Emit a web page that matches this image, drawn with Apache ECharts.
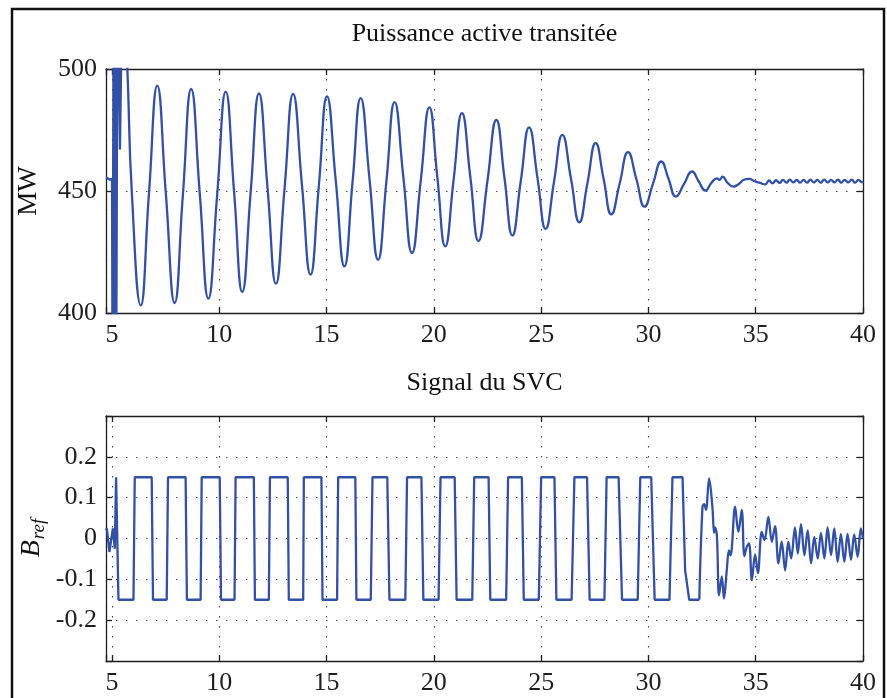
<!DOCTYPE html>
<html><head><meta charset="utf-8">
<script src="https://cdn.jsdelivr.net/npm/echarts@6/dist/echarts.min.js"></script>
<style>html,body{margin:0;padding:0;background:#fff}#c{width:887px;height:698px}</style>
</head><body><div id="c"></div><script>
// ---- Data (time in s) ----
const xTickLabels = [5, 10, 15, 20, 25, 30, 35, 40];
const topYTicks = [400, 450, 500];
const bottomYTicks = [-0.2, -0.1, 0, 0.1, 0.2];

// Puissance active transitée (MW): initial disturbance (straight segments)
const powerStart = [[4.72,455.6],[4.80,455.2],[4.90,454.6],[4.97,455.4],[5.00,455.0],[5.03,360],[5.07,520],[5.11,370],[5.15,525],[5.20,380],[5.25,530],[5.31,505],[5.37,467],[5.43,505],[5.55,515],[5.65,508]];
// Puissance active transitée (MW): damped oscillation
const powerMain = [[5.65,508],[5.72,499],[5.92,450],[6.34,403.1],[6.72,448.6],[7.11,493.2],[7.51,448.8],[7.92,404.1],[8.30,448.0],[8.69,491.8],[9.09,448.9],[9.49,405.9],[9.90,448.3],[10.30,490.7],[10.69,449.6],[11.07,408.6],[11.46,449.3],[11.85,490.0],[12.25,451.0],[12.64,412.0],[13.04,450.9],[13.44,489.8],[13.85,452.7],[14.25,415.7],[14.64,452.2],[15.02,488.8],[15.43,454.0],[15.83,419.1],[16.21,453.6],[16.59,488.1],[17.00,455.0],[17.40,421.8],[17.79,454.1],[18.17,486.4],[18.58,455.5],[18.98,424.6],[19.39,454.4],[19.79,484.3],[20.16,455.8],[20.53,427.3],[20.92,454.6],[21.31,481.9],[21.70,455.7],[22.08,429.5],[22.50,454.3],[22.91,479.1],[23.29,455.4],[23.66,431.8],[24.05,454.0],[24.44,476.1],[24.83,455.3],[25.21,434.5],[25.60,453.8],[25.99,473.0],[26.39,455.1],[26.78,437.2],[27.16,453.4],[27.54,469.6],[27.91,455.0],[28.27,440.4],[28.66,453.1],[29.05,465.9],[29.44,454.8],[29.82,443.6],[30.21,452.9],[30.60,462.1],[30.94,454.9],[31.28,447.7],[31.66,452.9],[32.03,458.0],[32.34,454.0],[32.65,450.2],[32.95,453.5],[33.19,455.2],[33.32,454.6],[33.45,455.9],[33.70,453.2],[33.96,451.8],[34.20,452.8],[34.45,454.6],[34.69,455.0],[34.95,454.0],[35.20,453.3],[35.44,452.7],[35.62,454.3],[35.78,453.1],[35.95,454.4],[36.11,453.3],[36.27,454.6],[36.43,453.4],[36.59,454.7],[36.75,453.5],[36.91,454.5],[37.07,453.4],[37.23,454.6],[37.39,453.4],[37.55,454.7],[37.71,453.5],[37.87,454.6],[38.03,453.4],[38.19,454.7],[38.35,453.5],[38.51,454.6],[38.67,453.5],[38.83,454.7],[38.99,453.4],[39.15,454.6],[39.31,453.5],[39.47,454.7],[39.63,453.4],[39.79,454.6],[39.95,453.6],[40.0,453.9]];

// Signal du SVC (B_ref): bang-bang part
const brefSquare = [[4.72,0.02],[4.76,0.025],[4.88,-0.033],[5.04,0.025],[5.13,-0.025],[5.19,0.15],[5.25,0.15],[5.30,-0.15],[6.00,-0.15],[6.06,0.15],[6.85,0.15],[6.91,-0.15],[7.55,-0.15],[7.61,0.15],[8.43,0.15],[8.49,-0.15],[9.13,-0.15],[9.18,0.15],[10.02,0.15],[10.08,-0.15],[10.71,-0.15],[10.76,0.15],[11.61,0.15],[11.66,-0.15],[12.31,-0.15],[12.36,0.15],[13.19,0.15],[13.24,-0.15],[13.91,-0.15],[13.94,0.15],[14.76,0.15],[14.81,-0.15],[15.49,-0.15],[15.54,0.15],[16.34,0.15],[16.39,-0.15],[17.06,-0.15],[17.14,0.15],[17.83,0.15],[17.93,-0.15],[18.67,-0.15],[18.75,0.15],[19.42,0.15],[19.51,-0.15],[20.22,-0.15],[20.31,0.15],[20.97,0.15],[21.06,-0.15],[21.79,-0.15],[21.88,0.15],[22.55,0.15],[22.63,-0.15],[23.37,-0.15],[23.46,0.15],[24.10,0.15],[24.19,-0.15],[24.89,-0.15],[25.00,0.15],[25.62,0.15],[25.71,-0.15],[26.42,-0.15],[26.55,0.15],[27.14,0.15],[27.26,-0.15],[27.95,-0.15],[28.05,0.15],[28.61,0.15],[28.77,-0.15],[29.50,-0.15],[29.62,0.15],[30.13,0.15],[30.29,-0.15],[30.98,-0.15],[31.12,0.15],[31.59,0.15],[31.71,-0.078],[31.82,-0.119],[31.90,-0.15],[32.37,-0.15]];
// Signal du SVC (B_ref): continuous part
const brefTail = [[32.37,-0.15],[32.52,0.078],[32.60,0.084],[32.68,0.07],[32.83,0.147],[32.98,0.078],[33.06,0.014],[33.10,0.027],[33.19,0.008],[33.29,-0.139],[33.42,-0.093],[33.52,-0.147],[33.65,-0.078],[33.75,-0.029],[33.82,-0.041],[33.88,-0.027],[34.04,0.078],[34.19,0.016],[34.35,0.07],[34.47,-0.043],[34.58,-0.021],[34.69,-0.012],[34.82,-0.102],[34.97,-0.039],[35.10,-0.085],[35.28,0.016],[35.41,-0.004],[35.59,0.053],[35.75,-0.008],[35.90,0.030],[36.06,-0.061],[36.21,-0.008],[36.37,-0.078],[36.52,-0.008],[36.65,-0.049],[36.83,0.027],[36.96,-0.037],[37.11,0.035],[37.27,-0.041],[37.42,0.020],[37.58,-0.061],[37.73,0.004],[37.89,-0.049],[38.04,0.014],[38.20,-0.049],[38.35,0.027],[38.51,-0.041],[38.66,0.025],[38.82,-0.057],[38.97,0.011],[39.13,-0.057],[39.28,0.011],[39.44,-0.052],[39.59,0.010],[39.75,-0.045],[39.90,0.025],[40.0,0.0]];

const X_MIN = 4.72, X_MAX = 40;
const FONT = '"Liberation Serif", "Times New Roman", serif';
const INK = '#1e1e1e';
const BLUE = '#3150a6';

function xAxis(gridIndex, position) {
  const isBottom = position === 'bottom';
  return {
    type: 'value', gridIndex, position, min: X_MIN, max: X_MAX, splitNumber: 7,
    axisLine: { show: true, onZero: false, lineStyle: { color: INK, width: 1.3 } },
    axisTick: { show: true, inside: true, length: 6, lineStyle: { color: INK, width: 1.3 } },
    axisLabel: { show: isBottom, margin: 9, fontFamily: FONT, fontSize: 26, color: INK,
      formatter: v => { const r = Math.round(v * 100) / 100; return xTickLabels.includes(r) ? String(r) : ''; } },
    splitLine: { show: isBottom, lineStyle: { type: [1.4, 8.6], color: '#444', width: 1.1 } }
  };
}
function yAxis(gridIndex, position, min, max, interval, ticks, fmt) {
  const isLeft = position === 'left';
  return {
    type: 'value', gridIndex, position, min, max, interval,
    axisLine: { show: true, onZero: false, lineStyle: { color: INK, width: 1.3 } },
    axisTick: { show: true, inside: true, length: 6, lineStyle: { color: INK, width: 1.3 } },
    axisLabel: { show: isLeft, margin: 9, fontFamily: FONT, fontSize: 26, color: INK,
      formatter: v => { const r = Math.round(v * 1000) / 1000; return ticks.includes(r) ? fmt(r) : ''; } },
    splitLine: { show: isLeft, lineStyle: { type: [1.4, 8.6], color: '#444', width: 1.1 } }
  };
}

const chart = echarts.init(document.getElementById('c'), null, { renderer: 'canvas' });
chart.setOption({
  animation: false,
  backgroundColor: '#fff',
  grid: [
    { left: 106, right: 24, top: 69, height: 244 },
    { left: 106, right: 24, top: 416, height: 245 }
  ],
  xAxis: [xAxis(0, 'bottom'), xAxis(0, 'top'), xAxis(1, 'bottom'), xAxis(1, 'top')],
  yAxis: [
    yAxis(0, 'left', 400, 500, 50, topYTicks, r => String(r)),
    yAxis(0, 'right', 400, 500, 50, topYTicks, r => String(r)),
    yAxis(1, 'left', -0.3, 0.3, 0.1, bottomYTicks, r => String(r)),
    yAxis(1, 'right', -0.3, 0.3, 0.1, bottomYTicks, r => String(r))
  ],
  series: [
    { type: 'line', xAxisIndex: 0, yAxisIndex: 0, data: powerStart, showSymbol: false, smooth: false,
      lineStyle: { color: BLUE, width: 2.3 }, z: 5 },
    { type: 'line', xAxisIndex: 0, yAxisIndex: 0, data: powerMain, showSymbol: false, smooth: 0.5,
      lineStyle: { color: BLUE, width: 2.3 }, z: 5 },
    { type: 'line', xAxisIndex: 2, yAxisIndex: 2, data: brefSquare, showSymbol: false, smooth: false,
      lineStyle: { color: BLUE, width: 2.3 }, z: 5 },
    { type: 'line', xAxisIndex: 2, yAxisIndex: 2, data: brefTail, showSymbol: false, smooth: 0.35,
      lineStyle: { color: BLUE, width: 2.3 }, z: 5 }
  ],
  graphic: [
    { type: 'rect', z: 100, silent: true, shape: { x: 12, y: 9, width: 872, height: 730 },
      style: { fill: 'none', stroke: '#111', lineWidth: 2.5 } },
    { type: 'text', x: 484.5, y: 34, silent: true,
      style: { text: 'Puissance active transitée', font: '26px ' + FONT, fill: '#111', textAlign: 'center', textVerticalAlign: 'middle' } },
    { type: 'text', x: 484.5, y: 383, silent: true,
      style: { text: 'Signal du SVC', font: '26px ' + FONT, fill: '#111', textAlign: 'center', textVerticalAlign: 'middle' } },
    { type: 'text', x: 29, y: 191, rotation: Math.PI / 2, silent: true,
      style: { text: 'MW', font: '27px ' + FONT, fill: '#111', textAlign: 'center', textVerticalAlign: 'middle' } },
    { type: 'text', x: 32, y: 538, rotation: Math.PI / 2, silent: true,
      style: { text: '{b|B}{s|ref}', textAlign: 'center', textVerticalAlign: 'middle', fill: '#111',
        rich: {
          b: { fontFamily: FONT, fontSize: 28, fontStyle: 'italic', fill: '#111' },
          s: { fontFamily: FONT, fontSize: 19, fontStyle: 'italic', fill: '#111', padding: [14, 0, 0, 1] }
        } } }
  ]
});
</script></body></html>
